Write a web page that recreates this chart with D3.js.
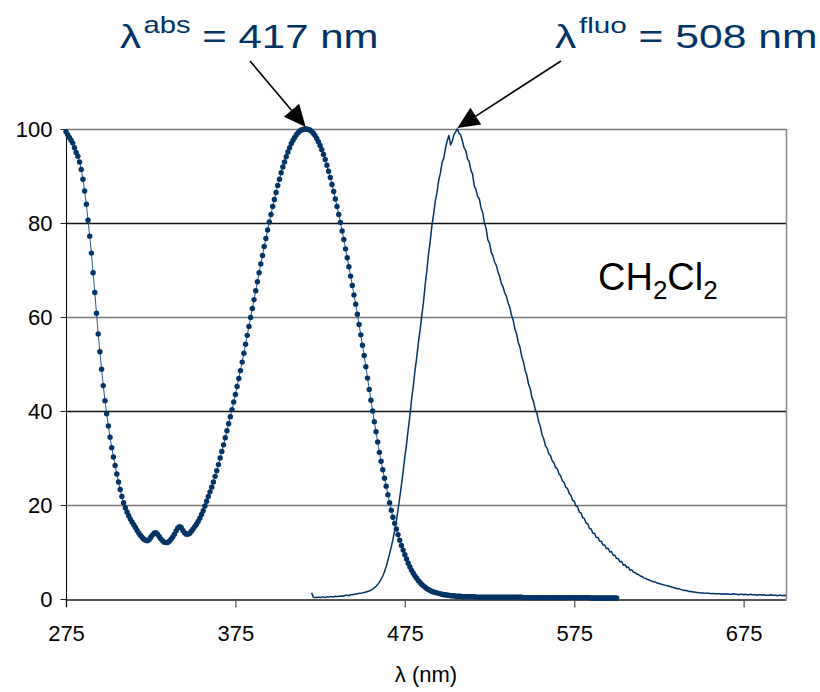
<!DOCTYPE html>
<html>
<head>
<meta charset="utf-8">
<script src="https://cdn.jsdelivr.net/npm/d3@7"></script>
<style>
  body { margin: 0; background: #fff; }
  svg { display: block; font-family: "Liberation Sans", Arial, sans-serif; }
</style>
</head>
<body>
<svg id="chart" width="820" height="692"></svg>
<script>
// absorption spectrum, 1 nm steps from absStart
const absStart = 275;
const absValues = [
  99.4, 98.8, 98.2, 97.6, 97.0, 96.0, 95.0, 94.2, 93.0, 91.4,
  89.3, 86.8, 84.0, 80.6, 77.2, 73.6, 69.4, 65.2, 60.8, 56.4,
  52.6, 48.9, 45.4, 42.2, 39.4, 36.8, 34.4, 32.2, 30.2, 28.4,
  26.6, 24.9, 23.3, 21.8, 20.5, 19.4, 18.5, 17.7, 17.0, 16.4,
  15.8, 15.2, 14.6, 14.0, 13.5, 13.1, 12.7, 12.5, 12.4, 12.6,
  13.1, 13.6, 14.0, 14.1, 13.8, 13.3, 12.8, 12.4, 12.1, 12.0,
  12.0, 12.3, 12.7, 13.2, 13.8, 14.5, 15.1, 15.4, 15.2, 14.6,
  14.1, 13.8, 13.8, 14.0, 14.4, 14.9, 15.4, 15.9, 16.5, 17.2,
  18.0, 18.8, 19.8, 20.8, 21.8, 22.8, 23.8, 24.9, 26.1, 27.3,
  28.6, 30.0, 31.4, 32.8, 34.3, 35.8, 37.3, 38.8, 40.3, 41.9,
  43.5, 45.2, 46.9, 48.6, 50.4, 52.3, 54.2, 56.1, 58.0, 59.9,
  61.8, 63.7, 65.6, 67.5, 69.4, 71.3, 73.1, 75.0, 76.7, 78.5,
  80.2, 81.8, 83.5, 85.0, 86.5, 88.0, 89.3, 90.7, 91.9, 93.0,
  94.1, 95.1, 96.0, 96.9, 97.6, 98.2, 98.8, 99.2, 99.6, 99.8,
  99.9, 100.0, 100.0, 99.9, 99.8, 99.5, 99.1, 98.6, 98.0, 97.3,
  96.5, 95.6, 94.6, 93.5, 92.3, 91.0, 89.7, 88.2, 86.7, 85.1,
  83.5, 81.8, 80.1, 78.3, 76.5, 74.5, 72.6, 70.7, 68.7, 66.7,
  64.7, 62.7, 60.6, 58.4, 56.2, 54.0, 51.8, 49.4, 47.0, 44.6,
  42.3, 40.0, 37.7, 35.6, 33.4, 31.2, 29.3, 27.5, 25.7, 24.0,
  22.2, 20.5, 18.9, 17.4, 16.1, 14.9, 13.7, 12.5, 11.4, 10.4,
  9.4, 8.5, 7.6, 6.8, 6.1, 5.5, 4.9, 4.4, 3.9, 3.5,
  3.1, 2.8, 2.5, 2.2, 2.0, 1.8, 1.6, 1.5, 1.4, 1.3,
  1.2, 1.1, 1.0, 0.9, 0.9, 0.8, 0.8, 0.7, 0.7, 0.7,
  0.6, 0.6, 0.6, 0.6, 0.5, 0.5, 0.5, 0.5, 0.5, 0.5,
  0.5, 0.5, 0.4, 0.4, 0.4, 0.4, 0.4, 0.4, 0.4, 0.4,
  0.4, 0.4, 0.4, 0.4, 0.4, 0.4, 0.4, 0.4, 0.4, 0.4,
  0.4, 0.4, 0.4, 0.4, 0.4, 0.4, 0.4, 0.4, 0.4, 0.4,
  0.3, 0.3, 0.3, 0.3, 0.3, 0.3, 0.3, 0.3, 0.3, 0.3,
  0.3, 0.3, 0.3, 0.3, 0.3, 0.3, 0.3, 0.3, 0.3, 0.3,
  0.3, 0.3, 0.3, 0.3, 0.3, 0.3, 0.3, 0.3, 0.3, 0.3,
  0.3, 0.3, 0.3, 0.3, 0.3, 0.3, 0.3, 0.3, 0.3, 0.3,
  0.2, 0.2, 0.2, 0.2, 0.2, 0.2, 0.2, 0.2, 0.2, 0.2,
  0.2, 0.2, 0.2, 0.2, 0.2, 0.2
];

// fluorescence spectrum, 1 nm steps from fluoStart
const fluoStart = 420;
const fluoValues = [
  1.3, 0.4, 0.3, 0.3, 0.4, 0.3, 0.4, 0.4, 0.3, 0.5,
  0.4, 0.5, 0.5, 0.4, 0.6, 0.5, 0.6, 0.6, 0.7, 0.6,
  0.8, 0.8, 0.7, 0.9, 0.9, 1.0, 1.0, 1.1, 1.2, 1.2,
  1.3, 1.4, 1.5, 1.6, 1.7, 1.9, 2.1, 2.4, 2.7, 3.1,
  3.6, 4.2, 4.9, 5.8, 6.9, 8.2, 9.6, 11.1, 12.7, 14.6,
  16.6, 19.0, 21.6, 24.3, 27.1, 30.2, 32.9, 36.1, 39.0, 42.5,
  45.3, 48.6, 51.3, 54.5, 57.2, 60.3, 63.1, 66.8, 69.9, 73.4,
  76.1, 79.5, 81.9, 84.7, 86.5, 89.1, 90.6, 92.9, 93.8, 95.9,
  97.5, 98.6, 96.6, 97.4, 98.8, 99.4, 100.0, 99.1, 98.7, 97.4,
  96.0, 95.4, 93.6, 93.1, 91.2, 90.4, 87.9, 87.1, 85.6, 85.1,
  83.2, 82.2, 80.0, 78.8, 76.4, 75.7, 73.8, 73.0, 71.7, 71.0,
  69.6, 68.6, 67.1, 66.4, 65.1, 64.4, 63.0, 62.0, 60.3, 59.3,
  57.4, 56.4, 54.5, 53.5, 51.6, 50.5, 48.7, 47.6, 45.8, 44.8,
  42.9, 42.0, 40.3, 39.5, 37.7, 36.7, 34.9, 34.1, 32.6, 32.1,
  30.9, 30.5, 29.4, 29.0, 28.0, 27.7, 26.6, 26.2, 25.1, 24.8,
  23.8, 23.5, 22.5, 22.1, 21.0, 20.8, 19.8, 19.6, 18.5, 18.3,
  17.3, 17.1, 16.1, 16.0, 15.0, 14.9, 14.0, 14.0, 13.1, 13.1,
  12.3, 12.3, 11.5, 11.5, 10.7, 10.8, 10.0, 10.1, 9.3, 9.3,
  8.6, 8.6, 7.9, 8.0, 7.2, 7.3, 6.7, 6.8, 6.1, 6.2,
  5.7, 5.6, 5.3, 5.2, 4.9, 4.8, 4.5, 4.4, 4.2, 4.1,
  3.9, 3.8, 3.6, 3.6, 3.4, 3.3, 3.2, 3.1, 3.0, 2.9,
  2.8, 2.7, 2.6, 2.5, 2.4, 2.3, 2.2, 2.2, 2.0, 1.9,
  1.8, 1.8, 1.7, 1.6, 1.6, 1.5, 1.5, 1.4, 1.4, 1.3,
  1.3, 1.3, 1.2, 1.3, 1.2, 1.2, 1.1, 1.2, 1.1, 1.1,
  1.1, 1.1, 1.0, 1.1, 1.0, 1.1, 1.0, 1.0, 1.0, 1.1,
  1.0, 1.0, 0.9, 1.0, 1.0, 0.9, 1.0, 0.9, 0.9, 1.0,
  0.9, 0.9, 0.9, 0.8, 0.9, 0.9, 0.8, 0.9, 0.8, 0.8,
  0.8, 0.9, 0.8, 0.8, 0.8, 0.7, 0.8, 0.8, 0.7, 0.8,
  0.7
];

const xTicks = [275, 375, 475, 575, 675];
const yTicks = [0, 20, 40, 60, 80, 100];
const absPeakLabel = "417 nm";
const fluoPeakLabel = "508 nm";

const navy = "#003366";
const svg = d3.select("#chart");
const margin = { left: 66, right: 34, top: 129, bottom: 93 };
const width = 820, height = 692;

const x = d3.scaleLinear().domain([275, 700]).range([margin.left, width - margin.right]);
const y = d3.scaleLinear().domain([0, 100]).range([height - margin.bottom, margin.top]);

const absData = absValues.map((v, i) => ({ nm: absStart + i, v }));
const fluoData = fluoValues.map((v, i) => ({ nm: fluoStart + i, v }));

// gridlines
svg.append("g")
  .selectAll("line")
  .data(yTicks.filter(d => d > 0))
  .join("line")
  .attr("x1", x.range()[0])
  .attr("x2", x.range()[1])
  .attr("y1", d => Math.round(y(d)) + 0.5)
  .attr("y2", d => Math.round(y(d)) + 0.5)
  .attr("stroke", (d, i) => i % 2 ? "#111" : "#777")
  .attr("stroke-width", 1.3);

// right border
svg.append("line")
  .attr("x1", x.range()[1] + 0.5).attr("x2", x.range()[1] + 0.5)
  .attr("y1", y(100)).attr("y2", y(0))
  .attr("stroke", "#888").attr("stroke-width", 1.5);

// x axis
const xAxis = svg.append("g")
  .attr("transform", `translate(0,${Math.round(y(0)) + 0.5})`)
  .call(d3.axisBottom(x).tickValues(xTicks).tickSizeInner(8).tickSizeOuter(0).tickPadding(18));
xAxis.select(".domain").attr("stroke", "#555").attr("stroke-width", 2);
xAxis.selectAll(".tick line").attr("stroke", "#555").attr("stroke-width", 1.3);
xAxis.selectAll(".tick text").attr("font-size", 22).attr("fill", "#000")
  .attr("font-family", "'Liberation Sans', Arial, sans-serif");

// y axis
const yAxis = svg.append("g")
  .attr("transform", `translate(${x.range()[0] + 0.5},0)`)
  .call(d3.axisLeft(y).tickValues(yTicks).tickSizeInner(6).tickSizeOuter(0).tickPadding(8));
yAxis.select(".domain").remove();
yAxis.append("line")
  .attr("y1", y(100)).attr("y2", y(0) + 8)
  .attr("stroke", "#000").attr("stroke-width", 1);
yAxis.selectAll(".tick line").attr("stroke", "#222");
yAxis.selectAll(".tick text").attr("font-size", 22).attr("fill", "#000")
  .attr("font-family", "'Liberation Sans', Arial, sans-serif");

// x axis title
svg.append("text")
  .attr("x", (x.range()[0] + x.range()[1]) / 2)
  .attr("y", 682)
  .attr("text-anchor", "middle")
  .attr("font-size", 22)
  .text("λ (nm)");

// fluorescence line
const line = d3.line().x(d => x(d.nm)).y(d => y(d.v));
svg.append("path")
  .datum(fluoData)
  .attr("d", line)
  .attr("fill", "none")
  .attr("stroke", navy)
  .attr("stroke-width", 1.5)
  .attr("stroke-linejoin", "round");

// absorption line + markers
svg.append("path")
  .datum(absData)
  .attr("d", line)
  .attr("fill", "none")
  .attr("stroke", "#2a5a8a")
  .attr("stroke-width", 1);
svg.append("g")
  .selectAll("circle")
  .data(absData)
  .join("circle")
  .attr("cx", d => x(d.nm))
  .attr("cy", d => y(d.v))
  .attr("r", 2.7)
  .attr("fill", navy);

// CH2Cl2 label
const solvent = svg.append("text")
  .attr("x", 598).attr("y", 290)
  .attr("font-size", 38)
  .attr("fill", "#000");
solvent.append("tspan").text("CH");
solvent.append("tspan").attr("font-size", 26).attr("dy", 9).text("2");
solvent.append("tspan").attr("dy", -9).text("Cl");
solvent.append("tspan").attr("font-size", 26).attr("dy", 9).text("2");

// peak annotations
function peakLabel(xPos, sup, value, targetWidth) {
  const g = svg.append("g").attr("transform", `translate(${xPos},48)`);
  const t = g.append("text").attr("font-size", 33).attr("fill", navy);
  t.append("tspan").text("λ");
  t.append("tspan").attr("font-size", 23).attr("dy", -15).attr("dx", 2).text(sup);
  t.append("tspan").attr("dy", 15).text(" = " + value);
  const w = t.node().getComputedTextLength();
  t.attr("transform", `scale(${targetWidth / w},1)`);
}
peakLabel(120, "abs", absPeakLabel, 256);
peakLabel(555, "fluo", fluoPeakLabel, 260);

// arrows
function arrow(x1, y1, x2, y2) {
  const ang = Math.atan2(y2 - y1, x2 - x1);
  const len = 22, half = 10;
  const bx = x2 - len * Math.cos(ang), by = y2 - len * Math.sin(ang);
  svg.append("line")
    .attr("x1", x1).attr("y1", y1).attr("x2", bx).attr("y2", by)
    .attr("stroke", "#000").attr("stroke-width", 1.6);
  const px = -Math.sin(ang) * half, py = Math.cos(ang) * half;
  svg.append("path")
    .attr("d", `M${x2},${y2}L${bx + px},${by + py}L${bx - px},${by - py}Z`)
    .attr("fill", "#000");
}
arrow(250, 61, x(416.5), y(100) - 2);
arrow(561, 61, x(506), y(100) - 1);
</script>
</body>
</html>
